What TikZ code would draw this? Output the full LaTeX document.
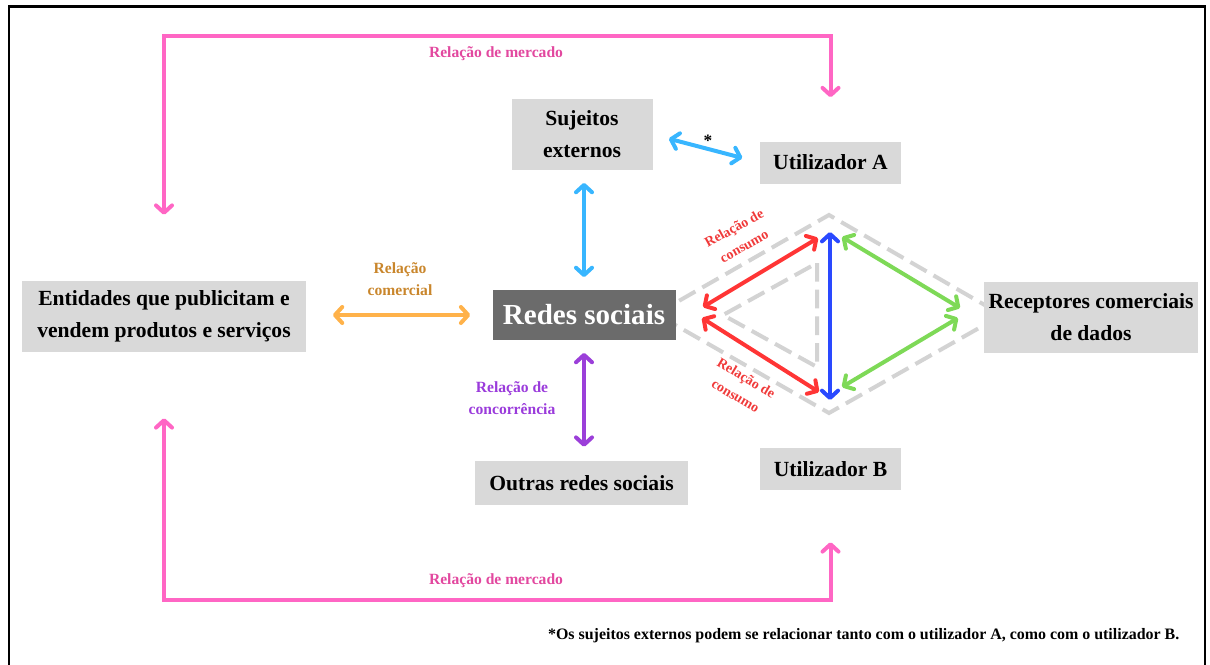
\documentclass[tikz,border=0pt]{standalone}
\usepackage{fontspec}
\setmainfont{Liberation Serif}
\usetikzlibrary{arrows.meta,calc}

\definecolor{boxgray}{HTML}{D9D9D9}
\definecolor{darkbox}{HTML}{6B6B6B}
\definecolor{pinkline}{HTML}{FF66C4}
\definecolor{pinktext}{HTML}{E2489F}
\definecolor{orangeline}{HTML}{FFB24A}
\definecolor{orangetext}{HTML}{C9862C}
\definecolor{skyblue}{HTML}{38B6FF}
\definecolor{purpleline}{HTML}{9B3FD9}
\definecolor{purpletext}{HTML}{9A3BDB}
\definecolor{redline}{HTML}{FF3535}
\definecolor{redtext}{HTML}{F03A3A}
\definecolor{royalblue}{HTML}{2A49FF}
\definecolor{greenline}{HTML}{7ED957}
\definecolor{dashgray}{HTML}{D3D3D3}

\tikzset{
  >={Straight Barb[length=5.5pt,width=12pt,round]},
  box/.style={fill=boxgray, inner sep=0pt, align=center,
    font=\fontsize{16.2}{24}\selectfont\bfseries},
  darkboxstyle/.style={fill=darkbox, text=white, inner sep=0pt, align=center,
    font=\fontsize{21.8}{26}\selectfont\bfseries},
  conn/.style={line width=3pt, <->},
  lbl/.style={align=center, font=\fontsize{11.7}{17}\selectfont\bfseries},
  redlbl/.style={align=center, text=redtext, font=\fontsize{10.5}{15.5}\selectfont\bfseries},
  dashline/.style={draw=dashgray, line width=3pt, dash pattern=on 14pt off 6pt},
}

\begin{document}
\begin{tikzpicture}[x=0.75pt,y=-0.75pt]
\useasboundingbox (0,0) rectangle (1210,664);

% frame
\draw[line width=1.6pt] (9,670) -- (9,6.5) -- (1205,6.5) -- (1205,670);

% diamond and inner triangle (behind the nodes)
\coordinate (dT) at (829,215);
\coordinate (dB) at (829,413);
\coordinate (dL) at (656,314);
\coordinate (dR) at (1002,315);
\coordinate (tT) at (817,263);
\coordinate (tB) at (817,367);
\coordinate (tL) at (723,315);
\draw[dashline] (dL) -- (dT) -- (dR) -- (dB) -- cycle;
\draw[dashline] (tT) -- (tB) -- (tL) -- cycle;

% nodes
\node[box, minimum width=213pt, minimum height=53.25pt] (ent) at (164,316.5)
  {Entidades que publicitam e\\vendem produtos e serviços};
\node[darkboxstyle, minimum width=137.25pt, minimum height=37.5pt] (redes) at (584,315)
  {Redes sociais};
\node[box, minimum width=105.75pt, minimum height=53.25pt] (suj) at (582,134.5)
  {Sujeitos\\externos};
\node[box, minimum width=105.75pt, minimum height=31.5pt] (utilA) at (830.5,162.5)
  {Utilizador A};
\node[box, minimum width=105.75pt, minimum height=31.5pt] (utilB) at (830.5,469)
  {Utilizador B};
\node[box, minimum width=159.75pt, minimum height=33pt] (outras) at (581.5,483)
  {Outras redes sociais};
\node[box, minimum width=160.5pt, minimum height=53.25pt] (rec) at (1091,317.5)
  {Receptores comerciais\\de dados};

% market relations (pink)
\draw[conn, pinkline] ([yshift=49.5pt]ent.north) -- ++(0,-179) -| ([yshift=33pt]utilA.north);
\draw[conn, pinkline] ([yshift=-49.5pt]ent.south) -- ++(0,182) -| ([yshift=-39pt]utilB.south);
\node[lbl, text=pinktext] (lm1) at (496,54) {Relação de mercado};
\node[lbl, text=pinktext] (lm2) at (496,581) {Relação de mercado};

% commercial relation (orange)
\draw[conn, orangeline, shorten <=20pt, shorten >=16.5pt] (ent.east |- redes.west) -- (redes.west);
\node[lbl, text=orangetext] (lc) at (400,279) {Relação\\comercial};

% external subjects (light blue)
\draw[conn, skyblue, shorten <=9.5pt, shorten >=9.5pt] (redes.north |- suj.south) -- (redes.north);
\draw[conn, skyblue, shorten <=12.5pt, shorten >=13.5pt] (suj.east) -- (utilA.west);
\node[font=\fontsize{13}{15}\selectfont\bfseries] (ast) at (708,141) {*};

% competition (purple)
\draw[conn, purpleline, shorten <=9.5pt, shorten >=10.5pt] (redes.south) -- (redes.south |- outras.north);
\node[lbl, text=purpletext] (lcc) at (512,398) {Relação de\\concorrência};

% consumption relations (red), users (blue), data receivers (green)
\coordinate (r1a) at (703,307);
\coordinate (r1b) at (818,238);
\coordinate (r2a) at (702,318);
\coordinate (r2b) at (819,392);
\coordinate (bA) at (830,232);
\coordinate (bB) at (830,400);
\coordinate (g1a) at (842,237);
\coordinate (g1b) at (960,308);
\coordinate (g2a) at (958,318);
\coordinate (g2b) at (842,387);
\draw[conn, redline] (r1a) -- (r1b);
\draw[conn, redline] (r2a) -- (r2b);
\draw[conn, royalblue] (bA) -- (bB);
\draw[conn, greenline] (g1a) -- (g1b);
\draw[conn, greenline] (g2a) -- (g2b);
\node[redlbl, rotate=29] (rl1) at (739,237) {Relação de\\consumo};
\node[redlbl, rotate=-31] (rl2) at (741,387) {Relação de\\consumo};

% footnote
\node[anchor=east, font=\fontsize{11.95}{14}\selectfont\bfseries] (foot) at (1184,636)
  {*Os sujeitos externos podem se relacionar tanto com o utilizador A, como com o utilizador B.};
\end{tikzpicture}
\end{document}
